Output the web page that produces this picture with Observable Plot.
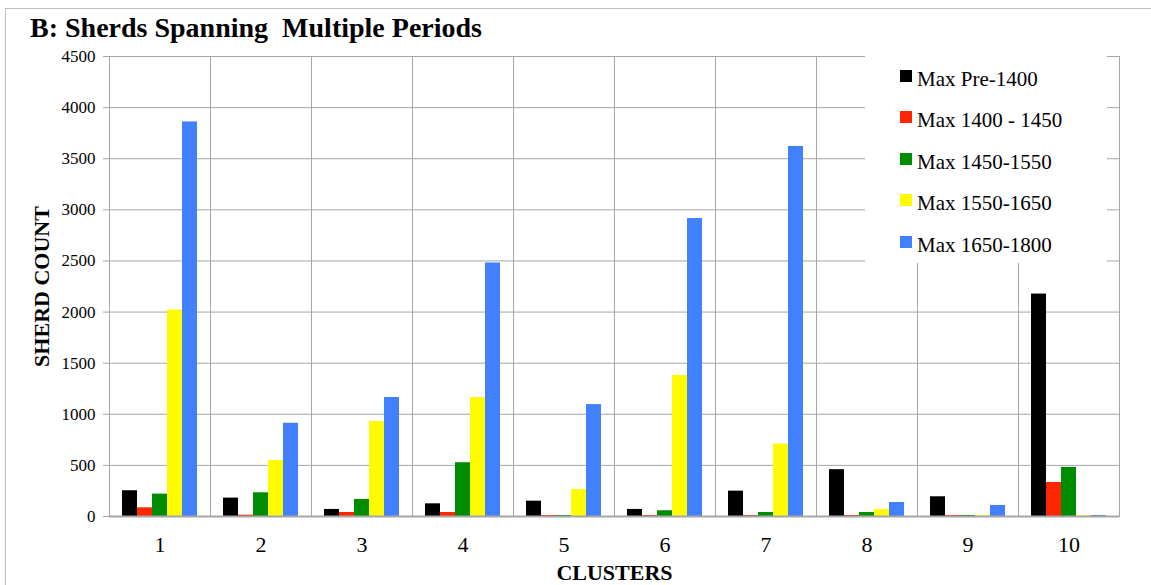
<!DOCTYPE html>
<html>
<head>
<meta charset="utf-8">
<script src="https://cdn.jsdelivr.net/npm/d3@7"></script>
<script src="https://cdn.jsdelivr.net/npm/@observablehq/plot@0.6"></script>
<style>
  html, body { margin: 0; padding: 0; background: #fff; overflow: hidden; }
  #wrap { position: relative; width: 1151px; height: 585px; font-family: "Liberation Serif", "Times New Roman", serif; }
  #border { position: absolute; left: 5px; top: 8px; width: 1300px; height: 700px; border: 1.5px solid #bdbdbd; }
  #title { position: relative; height: 47px; padding-left: 30px; box-sizing: border-box; font-weight: bold; font-size: 28px; line-height: 1; padding-top: 14px; white-space: pre; color: #000; }
  #chart { position: relative; }
  #legend { position: absolute; left: 865px; top: 55px; width: 242px; height: 208px; background: #fff; box-sizing: border-box; padding-left: 35px; padding-top: 4px; }
  .row { height: 41.4px; line-height: 41.4px; font-size: 21px; white-space: nowrap; color: #000; }
  .sw { display: inline-block; width: 12px; height: 12px; margin-right: 5px; margin-bottom: 4px; vertical-align: baseline; }
  #chart svg text { font-family: "Liberation Serif", "Times New Roman", serif; }
  svg [aria-label="fx-axis label"] text, svg [aria-label="y-axis label"] text { font-weight: bold; font-size: 22px; }
</style>
</head>
<body>
<div id="wrap">
  <div id="border"></div>
  <div id="title">B: Sherds Spanning  Multiple Periods</div>
  <div id="chart"></div>
  <div id="legend"></div>
</div>
<script>
const clusters = [1, 2, 3, 4, 5, 6, 7, 8, 9, 10];
const series = ["Max Pre-1400", "Max 1400 - 1450", "Max 1450-1550", "Max 1550-1650", "Max 1650-1800"];
const colors = ["#000000", "#ff2600", "#008c00", "#fffb00", "#4181ff"];
const maxPre1400 = [252, 180, 69, 124, 150, 69, 248, 458, 193, 2176];
const max1400_1450 = [85, 13, 39, 39, 10, 10, 10, 10, 10, 333];
const max1450_1550 = [219, 232, 167, 526, 10, 56, 39, 39, 10, 480];
const max1550_1650 = [2020, 549, 928, 1164, 265, 1380, 709, 69, 8, 8];
const max1650_1800 = [3860, 912, 1164, 2480, 1095, 2915, 3620, 137, 108, 10];
const yTicks = [0, 500, 1000, 1500, 2000, 2500, 3000, 3500, 4000, 4500];

const seriesValues = [maxPre1400, max1400_1450, max1450_1550, max1550_1650, max1650_1800];
const data = clusters.flatMap((c, i) => series.map((s, j) => ({cluster: c, series: s, value: seriesValues[j][i]})));

const grid = "#a6a6a6";
const chart = Plot.plot({
  width: 1151,
  height: 538,
  marginTop: 9,
  marginBottom: 69,
  marginLeft: 105,
  marginRight: 28,
  style: {fontFamily: "'Liberation Serif', 'Times New Roman', serif", background: "transparent", color: "#000", overflow: "visible"},
  fx: {domain: clusters, padding: 0},
  x: {domain: series, paddingInner: 0, paddingOuter: 0.76, axis: null},
  y: {domain: [0, 4500]},
  color: {domain: series, range: colors},
  marks: [
    Plot.gridY(yTicks, {stroke: grid, strokeOpacity: 1}),
    Plot.frame({stroke: grid}),
    Plot.barY(data, {fx: "cluster", x: "series", y: "value", fill: "series"}),
    Plot.ruleY([0], {stroke: grid, strokeWidth: 2}),
    Plot.axisY(yTicks, {tickSize: 6, tickPadding: 8, tickFormat: d => String(d), stroke: grid, fill: "#000", fontSize: 17, label: "SHERD COUNT", labelArrow: "none", labelAnchor: "center", labelOffset: 76}),
    Plot.axisFx({anchor: "bottom", tickSize: 0, tickPadding: 20, fontSize: 22, fill: "#000", label: "CLUSTERS", labelArrow: "none", labelAnchor: "center", labelOffset: 63})
  ]
});
document.getElementById("chart").appendChild(chart);

const legend = document.getElementById("legend");
series.forEach((s, i) => {
  const row = document.createElement("div");
  row.className = "row";
  const sw = document.createElement("span");
  sw.className = "sw";
  sw.style.background = colors[i];
  row.appendChild(sw);
  row.appendChild(document.createTextNode(s));
  legend.appendChild(row);
});
</script>
</body>
</html>
